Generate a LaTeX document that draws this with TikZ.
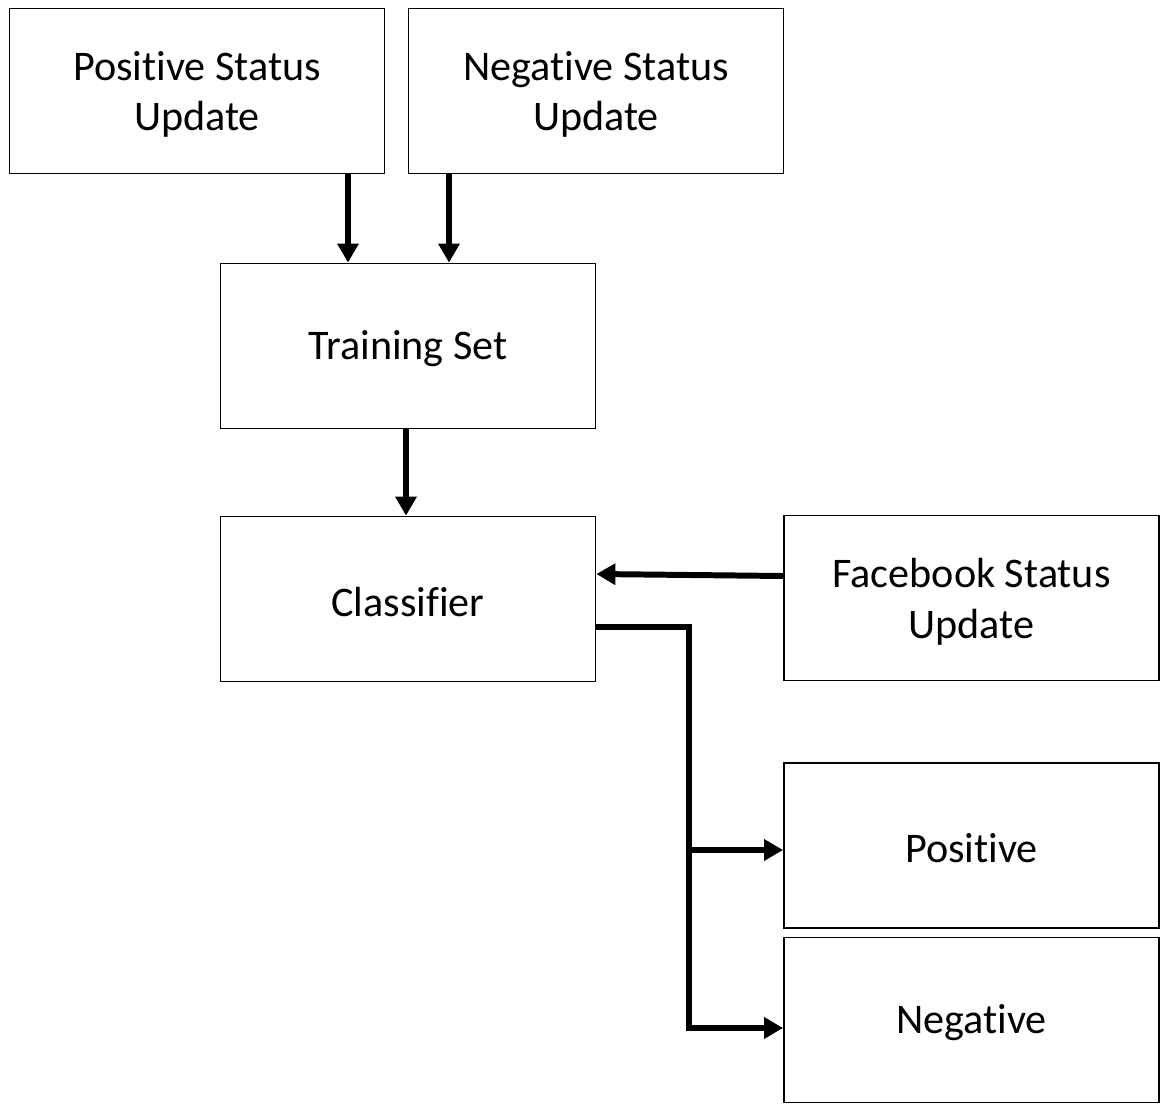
\documentclass[tikz,border=0pt]{standalone}
\usepackage{fontspec}
\setmainfont[Ligatures=NoCommon]{Carlito}
\usepackage{tikz}
\usetikzlibrary{calc,arrows.meta}

\begin{document}
\begin{tikzpicture}[scale=1,
    box/.style={draw, line width=1pt, minimum width=7.5cm, minimum height=3.3cm,
      align=center, font=\fontsize{24}{29}\selectfont},
    oneline/.style={box, text height=20pt},
    twoline/.style={box, text depth=0pt},
    arr/.style={line width=3.4pt, -{Triangle[length=3.8mm, width=4.1mm]}}]
      \useasboundingbox (0,0) rectangle (23.2,-22.08);
      \node (PosIn) at (3.94,-1.82)  [twoline] {Positive Status\\Update};
      \node (NegIn) at (11.92,-1.82)  [twoline] {Negative Status\\Update};
      \node (Train) at (8.16,-6.92)  [oneline] {Training Set};
      \node (Cls) at (8.16,-11.98)  [oneline] {Classifier};
      \node (FB) at (19.43,-11.96)  [twoline] {Facebook Status\\Update};
      \node (PosOut) at (19.43,-16.91)  [oneline] {Positive};
      \node (NegOut) at (19.43,-20.40)  [oneline] {Negative};
      \coordinate (J) at (13.78,-12.54);
      \draw[arr] ([xshift=3.02cm]PosIn.south) -- ([xshift=3.02cm]PosIn.south |- Train.north);
      \draw[arr] ([xshift=-2.94cm]NegIn.south) -- ([xshift=-2.94cm]NegIn.south |- Train.north);
      \draw[arr] ([xshift=-0.04cm]Train.south) -- ([xshift=-0.04cm]Cls.north);
      \draw[arr] ([yshift=0.44cm]FB.west) -- ([yshift=0.5cm]Cls.east);
      \draw[arr] ([yshift=-0.56cm]Cls.east) -- (J) |- ([yshift=-0.16cm]NegOut.west);
      \draw[arr] (J |- PosOut.west) ++(0,-0.09) -- ([yshift=-0.09cm]PosOut.west);
    \end{tikzpicture}
\end{document}
